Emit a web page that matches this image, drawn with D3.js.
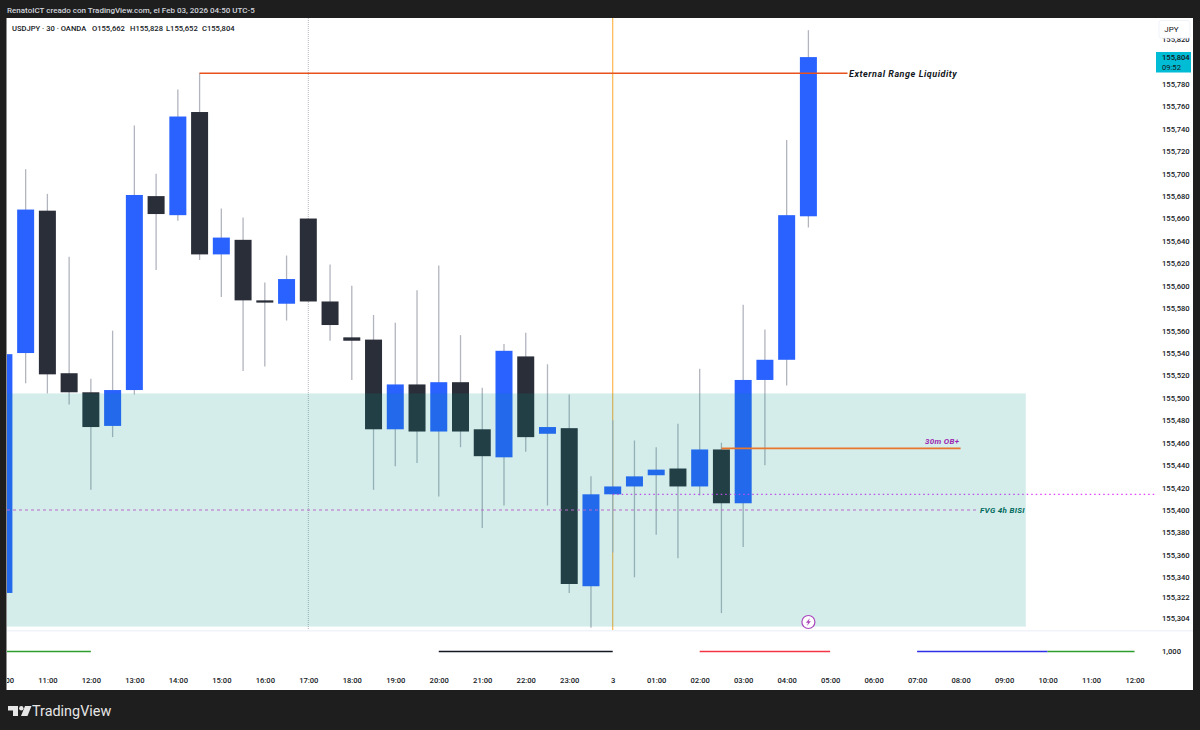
<!DOCTYPE html>
<html>
<head>
<meta charset="utf-8">
<script src="https://cdn.jsdelivr.net/npm/d3@7"></script>
<style>
  html, body { margin: 0; padding: 0; background: #1e1e1e; }
  svg { display: block; }
  text { font-family: Roboto, "Liberation Sans", sans-serif; }
  .axis text { font-size: 7.6px; fill: #131722; font-weight: 500; }
  .axis path, .axis line { display: none; }
</style>
</head>
<body>
<svg id="chart" width="1200" height="730"></svg>
<script>
// half hour bars, starting 10:00 on Feb 2
const opens  = [155326,155540,155667,155522,155505,155475,155507,155680,155663,155755,155628,155641,155587,155584,155660,155586,155554,155552,155472,155512,155470,155514,155472,155447,155537,155468,155473,155332,155414,155421,155431,155437,155421,155454,155406,155516,155534,155662];
const highs  = [155545,155704,155682,155626,155517,155560,155743,155700,155775,155790,155669,155661,155603,155627,155660,155619,155600,155574,155567,155596,155618,155556,155509,155548,155558,155530,155503,155430,155480,155462,155456,155477,155526,155460,155583,155561,155730,155828];
const lows   = [155320,155513,155504,155494,155418,155465,155503,155614,155658,155623,155590,155524,155528,155569,155586,155551,155516,155418,155439,155442,155412,155456,155384,155404,155452,155404,155326,155295,155362,155340,155378,155357,155413,155308,155367,155440,155511,155652];
const closes = [155539,155668,155521,155505,155474,155507,155681,155664,155751,155628,155643,155587,155585,155606,155586,155565,155551,155472,155512,155470,155514,155470,155448,155542,155465,155474,155334,155414,155421,155430,155436,155421,155454,155406,155516,155534,155663,155804];

const priceTicks = [155820,155780,155760,155740,155720,155700,155680,155660,155640,155620,155600,155580,155560,155540,155520,155500,155480,155460,155440,155420,155400,155380,155360,155340,155322,155304];
const timeTicks = [0,2,4,6,8,10,12,14,16,18,20,22,24,26,28,30,32,34,36,38,40,42,44,46,48,50,52];
const timeLabels = ['10:00','11:00','12:00','13:00','14:00','15:00','16:00','17:00','18:00','19:00','20:00','21:00','22:00','23:00','3','01:00','02:00','03:00','04:00','05:00','06:00','07:00','08:00','09:00','10:00','11:00','12:00'];

// session bar in the lower pane
const sessionStart = [-2,20,32,42,48];
const sessionEnd   = [4,28,38,48,52];
const sessionColor = ['#2e9e2e','#131722','#f23645','#2f2fe8','#2e9e2e'];

// legend line pieces
const legendItems = ['USDJPY · 30 · OANDA','O155,662','H155,828','L155,652','C155,804'];
const legendLeft = [12,92,130,166,202];

const svg = d3.select('#chart');
const paneLeft = 6.5, paneRight = 1193, paneTop = 18, paneBottom = 690;
const mainBottom = 630;

const x = d3.scaleLinear().domain([0, 37]).range([3.9, 808.4]);
const y = d3.scaleLinear().domain([155400, 155780]).range([510, 84]);
const yLow = d3.scaleLinear().domain([0, 2]).range([671.5, 631.5]);

// panel
svg.append('rect').attr('x', paneLeft).attr('y', paneTop)
  .attr('width', paneRight - paneLeft).attr('height', paneBottom - paneTop)
  .attr('fill', '#fff');

const defs = svg.append('defs');
defs.append('clipPath').attr('id', 'main-clip').append('rect')
  .attr('x', 7).attr('y', paneTop).attr('width', paneRight - 7).attr('height', mainBottom - paneTop);
defs.append('clipPath').attr('id', 'pane-clip').append('rect')
  .attr('x', 7).attr('y', paneTop).attr('width', paneRight - 7).attr('height', paneBottom - paneTop);

const main = svg.append('g').attr('clip-path', 'url(#main-clip)');

// vertical markers
main.append('line').attr('x1', x(14)).attr('x2', x(14)).attr('y1', paneTop).attr('y2', mainBottom)
  .attr('stroke', '#b2b5be').attr('stroke-dasharray', '1 1');
main.append('line').attr('x1', x(28)).attr('x2', x(28)).attr('y1', paneTop).attr('y2', mainBottom)
  .attr('stroke', '#ffb74d').attr('stroke-width', 1.2);

// magenta dotted level sits behind the candles
svg.append('line').attr('x1', x(28)).attr('x2', x(53)).attr('y1', y(155414)).attr('y2', y(155414))
  .attr('stroke', '#e040fb').attr('stroke-width', 1.3).attr('stroke-dasharray', '1.5 3');

// candles
const bars = d3.range(opens.length);
const colorOf = i => closes[i] >= opens[i] ? '#2962ff' : '#2a2e39';
const bodyWidth = 17;

main.selectAll('line.wick').data(bars).join('line')
  .attr('class', 'wick')
  .attr('x1', i => x(i)).attr('x2', i => x(i))
  .attr('y1', i => y(highs[i])).attr('y2', i => y(lows[i]))
  .attr('stroke', '#b2b5be').attr('stroke-width', 1.3);

main.selectAll('rect.body').data(bars).join('rect')
  .attr('class', 'body')
  .attr('x', i => x(i) - bodyWidth / 2)
  .attr('width', bodyWidth)
  .attr('y', i => y(Math.max(opens[i], closes[i])))
  .attr('height', i => Math.max(2, Math.abs(y(opens[i]) - y(closes[i]))))
  .attr('fill', colorOf);

// FVG zone over the candles
svg.append('rect')
  .attr('x', 7).attr('width', x(47) - 7)
  .attr('y', y(155504)).attr('height', y(155296) - y(155504))
  .attr('fill', 'rgba(0,150,136,0.17)');

// FVG midline
svg.append('line').attr('x1', 7).attr('x2', x(44.76)).attr('y1', y(155400)).attr('y2', y(155400))
  .attr('stroke', '#ba68c8').attr('stroke-width', 1).attr('stroke-dasharray', '3 3');
svg.append('text').attr('x', 980).attr('y', y(155400) + 3)
  .attr('fill', '#00695c').attr('font-size', 8).attr('font-weight', 700).attr('font-style', 'italic')
  .attr('letter-spacing', 0.3).text('FVG 4h BISI');

// external range liquidity
svg.append('line').attr('x1', x(9)).attr('x2', x(38.8)).attr('y1', y(155789.5)).attr('y2', y(155789.5))
  .attr('stroke', '#e8521c').attr('stroke-width', 1.5);
svg.append('text').attr('x', 849).attr('y', y(155789.5) + 3.2)
  .attr('fill', '#131722').attr('font-size', 9).attr('font-weight', 700).attr('font-style', 'italic')
  .attr('letter-spacing', 0.55).text('External Range Liquidity');

// 30m order block
svg.append('line').attr('x1', x(33)).attr('x2', x(44)).attr('y1', y(155455)).attr('y2', y(155455))
  .attr('stroke', '#e8762c').attr('stroke-width', 1.6);
svg.append('text').attr('x', 925).attr('y', y(155455) - 4.5)
  .attr('fill', '#9c27b0').attr('font-size', 8).attr('font-weight', 700).attr('font-style', 'italic')
  .attr('letter-spacing', 0.3).text('30m OB+');

// lightning marker
const bolt = svg.append('g').attr('transform', `translate(${x(37)},622)`);
bolt.append('circle').attr('r', 6.5).attr('fill', '#fff').attr('stroke', '#ab47bc').attr('stroke-width', 1.2);
bolt.append('path').attr('d', 'M1.5,-4 L-2.5,0.8 L-0.3,0.8 L-1.5,4 L2.5,-0.8 L0.3,-0.8 Z').attr('fill', '#ab47bc');

// pane separator
svg.append('rect').attr('x', 7).attr('width', paneRight - 7).attr('y', 630).attr('height', 1.5).attr('fill', '#f0f3fa');

// lower pane sessions
svg.append('g').attr('clip-path', 'url(#pane-clip)')
  .selectAll('line').data(sessionStart).join('line')
  .attr('x1', (d, i) => x(d)).attr('x2', (d, i) => x(sessionEnd[i]))
  .attr('y1', yLow(1)).attr('y2', yLow(1))
  .attr('stroke', (d, i) => sessionColor[i]).attr('stroke-width', 1.4);

// axes
svg.append('g').attr('class', 'axis').attr('transform', 'translate(1156,0)')
  .call(d3.axisRight(y).tickValues(priceTicks).tickSize(0).tickPadding(6)
    .tickFormat(d => d3.format(',')(d)));

svg.append('g').attr('class', 'axis').attr('transform', 'translate(1156,0)')
  .call(d3.axisRight(yLow).tickValues([1]).tickSize(0).tickPadding(6)
    .tickFormat(() => '1,000'));

svg.append('g').attr('clip-path', 'url(#pane-clip)').append('g')
  .attr('class', 'axis').attr('transform', 'translate(0,678)')
  .call(d3.axisBottom(x).tickValues(timeTicks).tickSize(0).tickPadding(0)
    .tickFormat((d, i) => timeLabels[i]));

// JPY button
svg.append('rect').attr('x', 1159).attr('y', 20.5).attr('width', 31).attr('height', 17.5).attr('rx', 2)
  .attr('fill', '#fff').attr('stroke', '#f0f3fa');
svg.append('text').attr('x', 1171.5).attr('y', 31.5).attr('text-anchor', 'middle')
  .attr('font-size', 8).attr('fill', '#131722').text('JPY');

// last price tag
svg.append('rect').attr('x', 1156).attr('y', 52).attr('width', 35).attr('height', 20.5).attr('fill', '#00bcd4');
svg.append('text').attr('x', 1162).attr('y', 60).attr('font-size', 7.6).attr('font-weight', 500).attr('fill', '#131722').text('155,804');
svg.append('text').attr('x', 1162).attr('y', 69.5).attr('font-size', 7.6).attr('fill', '#131722').text('09:52');

// header texts
svg.append('text').attr('x', 7).attr('y', 13).attr('font-size', 8).attr('font-weight', 500)
  .attr('fill', '#d1d4dc')
  .text('RenatoICT creado con TradingView.com, el Feb 03, 2026 04:50 UTC-5');
svg.append('g').selectAll('text').data(legendItems).join('text')
  .attr('x', (d, i) => legendLeft[i]).attr('y', 31)
  .attr('font-size', 7.6).attr('font-weight', 500).attr('fill', '#131722')
  .text(d => d);

// TradingView logo
const logo = svg.append('g').attr('fill', '#e6e6e6');
logo.append('path').attr('d', 'M8,706 H18 V716 H13 V710.5 H8 Z');
logo.append('circle').attr('cx', 21.3).attr('cy', 708.2).attr('r', 2.2);
logo.append('path').attr('d', 'M25,706 H31.5 L27.5,716 H21 Z');
svg.append('text').attr('x', 32).attr('y', 716).attr('font-size', 14.4).attr('font-weight', 400)
  .attr('fill', '#e6e6e6').text('TradingView');
</script>
</body>
</html>
